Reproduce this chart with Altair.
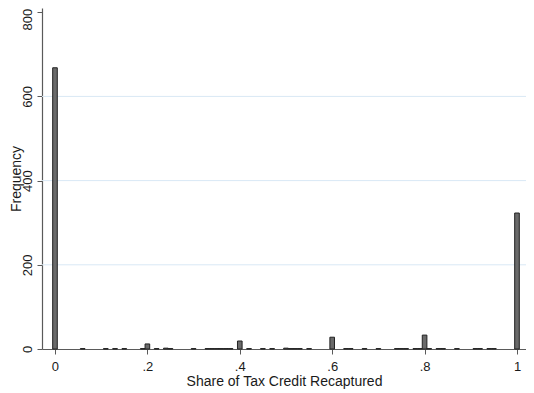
import altair as alt
import pandas as pd

# Histogram bins (bin centre = share recaptured) and their frequencies
bin_values = [0.00, 0.06, 0.11, 0.13, 0.15, 0.19, 0.20, 0.22, 0.24, 0.25,
              0.30, 0.33, 0.34, 0.35, 0.36, 0.37, 0.38, 0.40, 0.42, 0.45,
              0.47, 0.50, 0.51, 0.52, 0.53, 0.55, 0.60, 0.63, 0.64, 0.67,
              0.70, 0.74, 0.75, 0.76, 0.78, 0.79, 0.80, 0.81, 0.83, 0.84,
              0.87, 0.91, 0.92, 0.94, 0.95, 1.00]
frequencies = [668, 1, 1, 1, 1, 1, 12, 1, 2, 1,
               1, 1, 1, 1, 1, 1, 1, 19, 1, 1,
               1, 2, 1, 1, 1, 1, 28, 1, 1, 1,
               1, 1, 1, 1, 1, 1, 33, 1, 1, 1,
               1, 1, 1, 1, 1, 323]
bin_width = 0.01

x_ticks = [0, 0.2, 0.4, 0.6, 0.8, 1]
y_ticks = [0, 200, 400, 600, 800]
grid_values = [200, 400, 600]

bars_df = pd.DataFrame({"share": bin_values, "freq": frequencies})
grid_df = pd.DataFrame({"g": grid_values})

FONT = "Liberation Sans"

x_scale = alt.Scale(domain=[-0.0281, 1.0195], nice=False, zero=False)
y_scale = alt.Scale(domain=[0, 810], nice=False)

grid = alt.Chart(grid_df).mark_rule(color="#d9e8f5", strokeWidth=1).encode(
    y=alt.Y("g:Q", scale=y_scale)
)

bars = alt.Chart(bars_df).transform_calculate(
    lo=f"datum.share - {bin_width / 2}",
    hi=f"datum.share + {bin_width / 2}",
).mark_bar(color="#6a6a6a", stroke="#222222", strokeWidth=1).encode(
    x=alt.X("lo:Q", scale=x_scale,
            axis=alt.Axis(values=x_ticks, title="Share of Tax Credit Recaptured",
                          labelExpr="datum.value == 0 ? '0' : datum.value == 1 ? '1' : '.' + format(datum.value * 10, 'd')",
                          grid=False, tickSize=5, labelPadding=6, titlePadding=1)),
    x2="hi:Q",
    y=alt.Y("freq:Q", scale=y_scale,
            axis=alt.Axis(values=y_ticks, title="Frequency", labelAngle=270,
                          labelAlign="center", labelBaseline="bottom",
                          labelOffset={"condition": {"test": "datum.value == 800", "value": 7}, "value": 0},
                          grid=False, tickSize=5, labelPadding=3, titlePadding=-2)),
    y2=alt.datum(0),
)

chart = alt.layer(grid, bars).properties(
    width=484, height=341,
    autosize=alt.AutoSizeParams(type="none"),
    padding={"left": 34, "top": 0, "right": 0, "bottom": 40},
).configure_view(stroke=None).configure_axis(
    domainColor="#5a5a5a", tickColor="#5a5a5a", domainWidth=1.2, tickWidth=1,
    labelFont=FONT, titleFont=FONT, labelFontSize=13, titleFontSize=14,
    labelColor="#1a1a1a", titleColor="#1a1a1a", titleFontWeight="normal",
)

chart.save("out.html", embed_options={"renderer": "svg", "actions": False})
